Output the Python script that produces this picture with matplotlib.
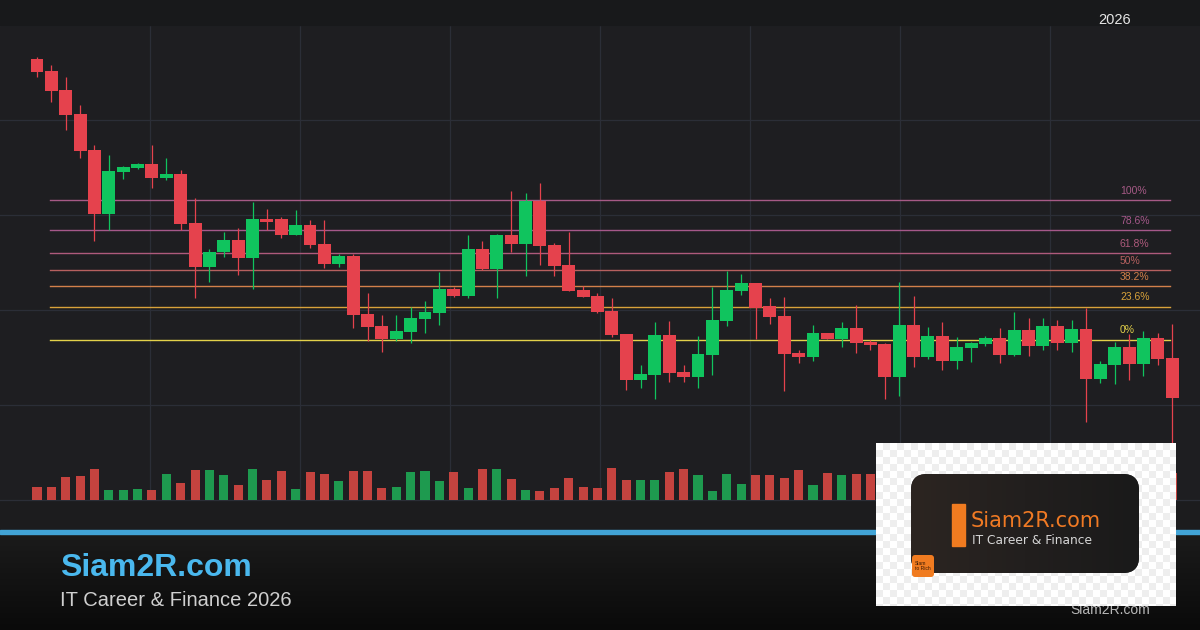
import numpy as np
import matplotlib
matplotlib.use("Agg")
import matplotlib.pyplot as plt
from matplotlib.patches import Rectangle, FancyBboxPatch
from matplotlib.colors import LinearSegmentedColormap, ListedColormap

plt.rcParams['font.family'] = ['Liberation Sans', 'DejaVu Sans']

# daily candles, price units
opens = [50.10, 48.90, 47.00, 44.60, 41.00, 34.60, 38.83, 39.23, 39.60, 38.23,
         38.60, 33.70, 29.33, 30.80, 32.00, 30.23, 34.10, 34.10, 32.50, 33.50,
         31.60, 29.60, 30.40, 24.60, 23.40, 22.10, 22.83, 24.10, 24.73, 27.10,
         26.40, 31.10, 29.10, 32.50, 31.63, 35.93, 31.50, 29.47, 27.00, 26.40,
         24.90, 22.60, 18.00, 18.50, 22.50, 18.80, 18.30, 20.50, 23.90, 26.90,
         27.70, 25.40, 24.40, 20.70, 20.30, 22.70, 22.10, 23.20, 21.80, 21.60,
         18.30, 23.50, 20.30, 22.40, 19.90, 21.20, 21.60, 22.20, 20.50, 23.00,
         21.40, 23.40, 21.70, 23.10, 18.10, 19.50, 21.30, 19.60, 22.20, 20.20]
highs = [50.33, 49.50, 48.30, 45.50, 41.50, 40.50, 39.43, 39.70, 41.50, 40.23,
         39.00, 36.20, 31.10, 32.80, 33.23, 35.80, 35.10, 34.33, 35.00, 34.00,
         34.00, 30.60, 30.57, 26.67, 24.50, 24.50, 25.33, 25.90, 28.77, 27.33,
         32.50, 31.90, 32.60, 36.90, 36.70, 37.70, 31.70, 32.80, 27.43, 26.73,
         26.17, 22.60, 19.50, 23.80, 23.90, 19.50, 22.40, 27.33, 28.90, 28.60,
         27.70, 26.20, 26.30, 21.00, 23.50, 22.70, 23.80, 25.50, 22.00, 21.73,
         27.80, 26.40, 23.30, 23.80, 22.30, 21.80, 22.40, 23.20, 24.80, 24.20,
         24.20, 24.00, 24.00, 25.20, 19.93, 21.80, 22.60, 22.90, 22.70, 23.60]
lows = [48.33, 45.83, 43.00, 40.23, 31.90, 33.00, 38.13, 39.10, 37.23, 38.00,
        33.00, 26.23, 27.80, 30.33, 28.50, 27.07, 33.00, 32.23, 32.50, 31.23,
        29.17, 29.33, 23.17, 21.93, 20.83, 21.93, 21.67, 22.73, 23.53, 26.27,
        26.23, 29.00, 26.17, 30.83, 28.43, 29.53, 28.43, 26.93, 26.33, 24.67,
        22.33, 17.00, 17.23, 16.10, 17.83, 17.83, 17.23, 18.50, 23.40, 26.50,
        22.10, 23.60, 16.93, 19.73, 19.90, 22.10, 21.33, 20.73, 21.00, 16.10,
        16.40, 19.30, 20.13, 19.00, 19.13, 19.80, 21.40, 19.70, 20.43, 20.40,
        21.00, 21.00, 20.83, 13.83, 17.73, 17.60, 18.00, 18.40, 19.50, 11.70]
closes = [48.83, 46.93, 44.50, 40.93, 34.60, 38.90, 39.33, 39.60, 38.23, 38.60,
          33.60, 29.33, 30.83, 32.00, 30.23, 34.10, 33.80, 32.50, 33.50, 31.50,
          29.60, 30.40, 24.50, 23.33, 22.10, 22.90, 24.20, 24.80, 27.10, 26.40,
          31.10, 29.07, 32.50, 31.63, 35.93, 31.43, 29.43, 26.93, 26.33, 24.83,
          22.50, 18.00, 18.60, 22.50, 18.70, 18.30, 20.60, 24.00, 27.00, 27.70,
          25.20, 24.30, 20.60, 20.30, 22.70, 22.10, 23.20, 21.70, 21.50, 18.30,
          23.50, 20.30, 22.40, 19.90, 21.30, 21.70, 22.20, 20.50, 23.00, 21.40,
          23.40, 21.70, 23.10, 18.10, 19.60, 21.30, 19.60, 22.20, 20.10, 16.20]
volumes = [13, 13, 23, 24, 31, 10, 10, 11, 10, 26,
           17, 30, 30, 25, 15, 31, 20, 29, 11, 28,
           26, 19, 29, 29, 12, 13, 28, 29, 19, 28,
           12, 31, 31, 21, 10, 9, 12, 22, 13, 12,
           32, 20, 20, 20, 28, 31, 25, 9, 26, 16,
           25, 25, 22, 30, 15, 27, 25, 26, 26, 24,
           30, 22, 18, 26, 14, 12, 11, 20, 23, 19,
           21, 17, 18, 32, 16, 20, 15, 22, 18, 27]

fib_ratios = [1.0, 0.786, 0.618, 0.5, 0.382, 0.236, 0.0]
fib_labels = ['100%', '78.6%', '61.8%', '50%', '38.2%', '23.6%', '0%']
fib_colors = ['#a65a86', '#a5588a', '#ae5a7c', '#b6605f', '#d3804a', '#d8a23a', '#e3d14a']
fib_high = 36.0
fib_low = 22.05

year_label = '2026'
brand = 'Siam2R.com'
tagline = 'IT Career & Finance 2026'

UP = '#10c45e'
DOWN = '#e5424d'
VUP = '#1e9a4f'
VDOWN = '#c5433f'
GRID = '#2b2e37'

# pixel layout helpers
X0, STEP = 37, 14.37
def px2i(px):
    return (px - X0) / STEP

fig = plt.figure(figsize=(12, 6.3), dpi=100, facecolor='#1c1c1e')

ax = fig.add_axes([0, 130 / 630, 1, 475 / 630], facecolor='#1e1e21')
ax.set_xlim(px2i(0), px2i(1200))
ax.set_ylim(6.0, 53.5)
ax.set_yticks([15.5, 25, 34.5, 44])
ax.set_xticks([px2i(p) for p in range(150, 1200, 150)])
ax.grid(color=GRID, lw=0.9)
ax.tick_params(length=0, labelleft=False, labelbottom=False)
for s in ['left', 'right']:
    ax.spines[s].set_visible(False)
for s in ['top', 'bottom']:
    ax.spines[s].set_color(GRID)
    ax.spines[s].set_linewidth(0.9)

n = len(opens)
idx = np.arange(n)
o = np.array(opens); h = np.array(highs); l = np.array(lows); c = np.array(closes)
up = c >= o
cols = np.where(up, UP, DOWN)
ax.vlines(idx, l, h, colors=cols, lw=0.9, zorder=3)
ax.bar(idx, np.maximum(np.abs(c - o), 0.12), bottom=np.minimum(o, c), width=0.9,
       color=cols, zorder=4)

# fibonacci retracement
x_start, x_end = px2i(50), px2i(1170)
for r, lab, col in zip(fib_ratios, fib_labels, fib_colors):
    lvl = fib_low + r * (fib_high - fib_low)
    ax.plot([x_start, x_end], [lvl, lvl], color=col, lw=1.0, zorder=2)
    ax.annotate(lab, (px2i(1120), lvl), xytext=(0, 3), textcoords='offset points',
                color=col, fontsize=7.5, va='bottom', ha='left')

# volume
vax = fig.add_axes([0, 130 / 630, 1, 475 / 630])
vax.patch.set_alpha(0)
vax.axis('off')
vax.set_xlim(px2i(0), px2i(1200))
vax.set_ylim(0, 475)
vax.bar(idx, volumes, width=0.63, color=np.where(up, VUP, VDOWN))

# overlay for decorations (pixel coords)
ov = fig.add_axes([0, 0, 1, 1])
ov.patch.set_alpha(0)
ov.axis('off')

ov.add_patch(Rectangle((0, 0), 1200, 24.5, color='#18191b', zorder=1))
ov.text(1115, 20, year_label, color='#e6e6e6', fontsize=10.5, ha='center', va='center', zorder=5)

band = LinearSegmentedColormap.from_list('band', ['#1b1b1b', '#0a0a0a'])
ov.imshow(np.linspace(0, 1, 100).reshape(-1, 1), cmap=band, aspect='auto',
          extent=(0, 1200, 630, 534), zorder=1)
ov.add_patch(Rectangle((0, 530), 1200, 4, color='#42a4d6', zorder=2))
ov.text(60, 568, brand, color='#4ab8ee', fontsize=23, fontweight='bold', va='center', zorder=3)
ov.text(60, 600, tagline, color='#cfcfcf', fontsize=14.5, va='center', zorder=3)

# logo card
jj, ii = np.meshgrid(np.arange(300), np.arange(163))
checker = ((ii // 7 + jj // 7) % 2).astype(float)
ov.imshow(checker, cmap=ListedColormap(['#ffffff', '#eeeeee']), interpolation='nearest',
          aspect='auto', extent=(876, 1176, 606, 443), zorder=6)
card = FancyBboxPatch((911, 474), 228, 99, boxstyle='round,pad=0,rounding_size=16',
                      facecolor='#1c1b1b', edgecolor='none', zorder=7)
ov.add_patch(card)
glow = LinearSegmentedColormap.from_list('glow', ['#2c2521', '#221f1e', '#1a1a1a'])
gi = ov.imshow(np.linspace(0, 1, 100).reshape(1, -1), cmap=glow, aspect='auto',
               extent=(911, 1139, 573, 474), zorder=8)
gi.set_clip_path(card)
ov.add_patch(Rectangle((952, 504), 13, 42, color='#f07b20', zorder=9))
ov.text(971, 521, 'Siam2R.com', color='#f07a24', fontsize=15, family='DejaVu Sans',
        va='center', zorder=9)
ov.text(972, 541, 'IT Career & Finance', color='#d6d6d6', fontsize=8.8, family='DejaVu Sans',
        va='center', zorder=9)
ov.add_patch(FancyBboxPatch((912, 555), 22, 22, boxstyle='round,pad=0,rounding_size=3',
                            facecolor='#f07b20', edgecolor='none', zorder=9))
ov.text(915, 566, 'Siam\nto Rich', color='#3a1a05', fontsize=3.6, va='center',
        linespacing=1.1, zorder=10)
ov.text(1110, 610, 'Siam2R.com', color='#b8b8b8', fontsize=10, ha='center', va='center', zorder=5)

ov.set_xlim(0, 1200)
ov.set_ylim(630, 0)

fig.savefig('out.png', dpi=100, facecolor=fig.get_facecolor())
